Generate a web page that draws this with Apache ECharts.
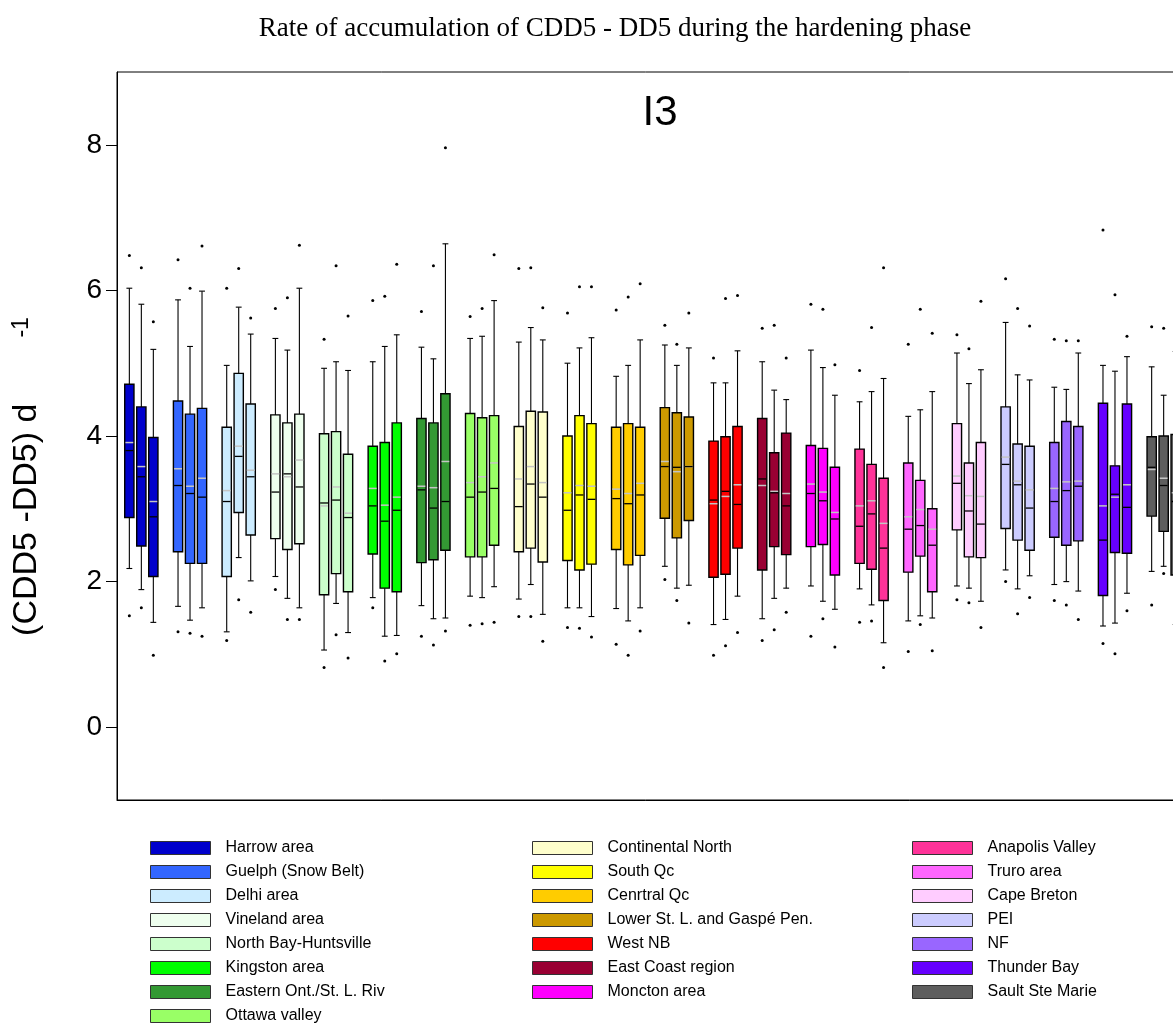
<!DOCTYPE html>
<html>
<head>
<meta charset="utf-8">
<script src="https://cdn.jsdelivr.net/npm/echarts@6/dist/echarts.min.js"></script>
<style>
html,body{margin:0;padding:0;background:#fff;}
#chart{width:1173px;height:1024px;}
</style>
</head>
<body>
<div id="chart"></div>
<script>
// ---------------- DATA ----------------
const regions = [
  'Harrow area','Guelph (Snow Belt)','Delhi area','Vineland area','North Bay-Huntsville',
  'Kingston area','Eastern Ont./St. L. Riv','Ottawa valley','Continental North','South Qc',
  'Cenrtral Qc','Lower St. L. and Gaspé Pen.','West NB','East Coast region','Moncton area',
  'Anapolis Valley','Truro area','Cape Breton','PEI','NF','Thunder Bay','Sault Ste Marie'
];
const yTicks = [0, 2, 4, 6, 8];

// three boxes per region; values in (CDD5-DD5) d^-1
const p95 = [
  [6.48,6.31,5.57],[6.42,6.03,6.61],[6.03,6.30,5.62],[5.75,5.90,6.62],[5.33,6.34,5.65],
  [5.86,5.92,6.36],[5.71,6.34,7.96],[5.64,5.75,6.49],[6.30,6.31,5.76],[5.69,6.05,6.05],
  [5.73,5.91,6.09],[5.52,5.26,5.69],[5.07,5.89,5.93],[5.48,5.52,5.07],[5.81,5.74,4.98],
  [4.90,5.49,6.31],[5.26,5.74,5.41],[5.39,5.20,5.85],[6.16,5.75,5.51],[5.33,5.31,5.31],
  [6.83,5.94,5.37],[5.50,5.48,5.53]
];
const p90 = [
  [6.03,5.81,5.19],[5.87,5.23,5.99],[4.97,5.77,5.40],[5.34,5.18,6.03],[4.93,5.02,4.90],
  [5.02,5.23,5.39],[5.22,5.06,6.64],[5.34,5.37,5.86],[5.29,5.49,5.32],[5.00,5.21,5.35],
  [4.82,4.97,5.32],[5.25,4.97,5.21],[4.73,4.73,5.17],[5.02,4.63,4.50],[5.18,4.94,4.56],
  [4.47,4.61,4.79],[4.27,4.36,4.61],[5.14,4.72,4.91],[5.56,4.84,4.77],[4.67,4.64,5.14],
  [4.97,4.89,5.09],[4.95,4.56,5.16]
];
const q3 = [
  [4.71,4.40,3.98],[4.48,4.30,4.38],[4.12,4.86,4.44],[4.29,4.18,4.30],[4.03,4.06,3.75],
  [3.86,3.91,4.18],[4.24,4.18,4.58],[4.31,4.25,4.28],[4.13,4.34,4.33],[4.00,4.28,4.17],
  [4.12,4.17,4.12],[4.39,4.32,4.26],[3.93,3.99,4.13],[4.24,3.77,4.04],[3.87,3.83,3.57],
  [3.82,3.61,3.42],[3.63,3.39,3.00],[4.17,3.63,3.91],[4.40,3.89,3.86],[3.91,4.20,4.13],
  [4.45,3.59,4.44],[3.99,4.00,4.02]
];
const medians = [
  [3.80,3.44,2.89],[3.32,3.21,3.16],[3.10,3.72,3.44],[3.23,3.48,3.30],[3.08,3.12,2.88],
  [3.04,2.83,2.98],[3.26,3.01,3.10],[3.16,3.23,3.28],[3.03,3.34,3.16],[2.98,3.19,3.13],
  [3.14,3.07,3.19],[3.58,3.57,3.58],[3.12,3.24,3.06],[3.41,3.22,3.04],[3.21,3.11,2.86],
  [2.76,2.93,2.46],[2.72,2.77,2.50],[3.35,2.97,2.79],[3.61,3.33,3.01],[3.10,3.25,3.31],
  [2.57,3.20,3.02],[3.57,3.32,3.10]
];
const means = [
  [3.91,3.58,3.10],[3.55,3.31,3.42],[3.25,3.86,3.53],[3.48,3.44,3.67],[3.04,3.30,2.94],
  [3.28,3.05,3.16],[3.31,3.29,3.65],[3.36,3.44,3.63],[3.41,3.58,3.36],[3.22,3.32,3.31],
  [3.27,3.21,3.35],[3.65,3.51,3.58],[3.07,3.17,3.33],[3.32,3.24,3.21],[3.34,3.23,2.95],
  [3.04,3.11,2.80],[2.89,2.99,2.72],[3.45,3.18,3.17],[3.71,3.38,3.26],[3.28,3.37,3.38],
  [3.04,3.16,3.33],[3.54,3.42,3.22]
];
const q1 = [
  [2.88,2.49,2.07],[2.41,2.25,2.25],[2.07,2.95,2.64],[2.59,2.44,2.52],[1.82,2.11,1.86],
  [2.38,1.91,1.86],[2.26,2.30,2.43],[2.34,2.34,2.50],[2.41,2.46,2.27],[2.29,2.16,2.24],
  [2.44,2.23,2.36],[2.87,2.60,2.84],[2.06,2.10,2.46],[2.16,2.48,2.37],[2.48,2.51,2.09],
  [2.25,2.17,1.74],[2.13,2.35,1.86],[2.71,2.34,2.33],[2.73,2.57,2.43],[2.61,2.50,2.56],
  [1.81,2.40,2.39],[2.90,2.69,2.09]
];
const p10 = [
  [2.18,1.89,1.44],[1.66,1.47,1.64],[1.31,2.33,2.01],[2.07,1.77,1.64],[1.06,1.70,1.30],
  [1.78,1.25,1.26],[1.67,1.49,1.50],[1.80,1.78,1.93],[1.76,1.96,1.55],[1.64,1.64,1.52],
  [1.63,1.46,1.64],[2.21,1.91,1.95],[1.41,1.48,1.80],[1.49,1.77,1.91],[1.94,1.73,1.62],
  [1.90,1.68,1.16],[1.46,1.53,1.50],[1.94,1.91,1.73],[2.16,1.90,2.08],[1.96,2.00,1.87],
  [1.39,1.43,1.84],[2.14,2.21,1.41]
];
const p5 = [
  [1.53,1.64,0.99],[1.31,1.29,1.25],[1.19,1.75,1.58],[1.89,1.48,1.48],[0.82,1.27,0.95],
  [1.64,0.91,1.01],[1.25,1.13,1.32],[1.40,1.42,1.44],[1.52,1.52,1.18],[1.37,1.36,1.24],
  [1.14,0.99,1.32],[2.03,1.74,1.43],[0.99,1.12,1.30],[1.19,1.34,1.58],[1.25,1.49,1.10],
  [1.44,1.46,0.82],[1.04,1.41,1.05],[1.75,1.71,1.37],[2.00,1.56,1.78],[1.74,1.68,1.48],
  [1.15,1.01,1.60],[1.68,2.11,1.23]
];

// ---------------- STYLE ----------------
const colors = [
  '#0000CC','#3366FF','#CCECFF','#EEFFEE','#CCFFCC','#00FF00','#339933','#99FF66',
  '#FFFFCC','#FFFF00','#FFCC00','#CC9900','#FF0000','#990033','#FF00FF',
  '#FF3399','#FF66FF','#FFCCFF','#CCCCFF','#9966FF','#6600FF','#5E5E5E'
];
const SANS = '"Liberation Sans", Arial, Helvetica, sans-serif';
const SERIF = '"Liberation Serif", "Times New Roman", serif';
const SUB_STEP = 0.2464;   // distance between boxes in a group, in band units
const BOX_W = 0.19;        // box width in band units
const CAP_W = 0.12;        // whisker cap width in band units

function renderBox(params, api) {
  const g = api.value(0), s = api.value(1);
  const band = api.size([1, 0])[0];
  const cx = api.coord([g, 0])[0] + (s - 1) * band * SUB_STEP;
  const hw = band * BOX_W / 2;
  const cw = band * CAP_W / 2;
  const Y = v => api.coord([g, v])[1];
  const vp5 = api.value(2), vp10 = api.value(3), vq1 = api.value(4), vmed = api.value(5),
        vq3 = api.value(6), vp90 = api.value(7), vp95 = api.value(8), vmean = api.value(9);
  const fill = api.visual('color');
  const line = {stroke: '#000', lineWidth: 1.1};
  return {
    type: 'group',
    children: [
      {type: 'line', shape: {x1: cx, y1: Y(vp90), x2: cx, y2: Y(vq3)}, style: line},
      {type: 'line', shape: {x1: cx, y1: Y(vq1), x2: cx, y2: Y(vp10)}, style: line},
      {type: 'line', shape: {x1: cx - cw, y1: Y(vp90), x2: cx + cw, y2: Y(vp90)}, style: line},
      {type: 'line', shape: {x1: cx - cw, y1: Y(vp10), x2: cx + cw, y2: Y(vp10)}, style: line},
      {type: 'rect', shape: {x: cx - hw, y: Y(vq3), width: hw * 2, height: Y(vq1) - Y(vq3)},
       style: {fill: fill, stroke: '#000', lineWidth: 1.4}},
      {type: 'line', shape: {x1: cx - hw + 0.7, y1: Y(vmean), x2: cx + hw - 0.7, y2: Y(vmean)},
       style: {stroke: '#C4C4C4', lineWidth: 1.5}},
      {type: 'line', shape: {x1: cx - hw + 0.7, y1: Y(vmed), x2: cx + hw - 0.7, y2: Y(vmed)},
       style: {stroke: '#000', lineWidth: 1.3}},
      {type: 'circle', shape: {cx: cx, cy: Y(vp95), r: 1.5}, style: {fill: '#000'}},
      {type: 'circle', shape: {cx: cx, cy: Y(vp5), r: 1.5}, style: {fill: '#000'}}
    ]
  };
}

const series = regions.map((name, g) => ({
  name: name,
  type: 'custom',
  renderItem: renderBox,
  clip: false,
  itemStyle: {color: colors[g]},
  encode: {x: 0, y: [2, 3, 4, 5, 6, 7, 8, 9]},
  data: [0, 1, 2].map(s => [g, s, p5[g][s], p10[g][s], q1[g][s], medians[g][s],
                                q3[g][s], p90[g][s], p95[g][s], means[g][s]])
}));

const ROW = 24;      // legend row pitch
const ITEM_H = 16;   // legend item height (text line)
function legendBlock(from, to, left, row0) {
  return {
    data: regions.slice(from, to),
    orient: 'vertical',
    left: left,
    top: 840 + (row0 || 0) * ROW,
    padding: 0,
    icon: 'rect',
    itemWidth: 60,
    itemHeight: 13,
    itemGap: ROW - ITEM_H,
    selectedMode: false,
    itemStyle: {borderColor: '#333', borderWidth: 1},
    textStyle: {fontFamily: SANS, fontSize: 16, color: '#000', padding: [0, 0, 0, 10]}
  };
}

const option = {
  backgroundColor: '#fff',
  animation: false,
  title: [
    {text: 'Rate of accumulation of CDD5 - DD5 during the hardening phase',
     left: 615, textAlign: 'center', top: 15, padding: 0,
     textStyle: {fontFamily: SERIF, fontSize: 27, fontWeight: 'normal', color: '#000'}},
    {text: 'I3', left: 660, textAlign: 'center', top: 92, padding: 0,
     textStyle: {fontFamily: SANS, fontSize: 42, fontWeight: 'normal', color: '#000'}}
  ],
  legend: [
    legendBlock(0, 7, 150, 0), legendBlock(7, 8, 150, 7),
    legendBlock(8, 15, 532, 0), legendBlock(15, 22, 912, 0)
  ],
  grid: {left: 117, top: 72, height: 728, width: 1071, show: true,
         outerBoundsMode: 'none',
         borderColor: '#000', borderWidth: 1, backgroundColor: 'transparent',
         containLabel: false},
  xAxis: {
    type: 'category', data: regions, boundaryGap: true,
    axisLine: {show: true, onZero: false, lineStyle: {color: '#000', width: 1}},
    axisTick: {show: false}, axisLabel: {show: false}, splitLine: {show: false}
  },
  yAxis: {
    type: 'value', min: -1, max: 9,
    name: '{m|(CDD5 -DD5) d}{s|-1}',
    nameLocation: 'middle', nameRotate: 90, nameGap: 73,
    nameTextStyle: {
      padding: [0, 81, 0, 0],
      rich: {
        m: {fontFamily: SANS, fontSize: 34, color: '#000'},
        s: {fontFamily: SANS, fontSize: 23, color: '#000', verticalAlign: 'top', padding: [0, 0, 0, 66]}
      }
    },
    axisLine: {show: true, onZero: false, lineStyle: {color: '#000', width: 1}},
    axisTick: {show: true, length: 11, customValues: yTicks, lineStyle: {color: '#000', width: 1}},
    axisLabel: {customValues: yTicks, fontFamily: SANS, fontSize: 28, color: '#000', margin: 15},
    splitLine: {show: false}
  },
  series: series
};

const chart = echarts.init(document.getElementById('chart'), null, {renderer: 'canvas'});
chart.setOption(option);
</script>
</body>
</html>
